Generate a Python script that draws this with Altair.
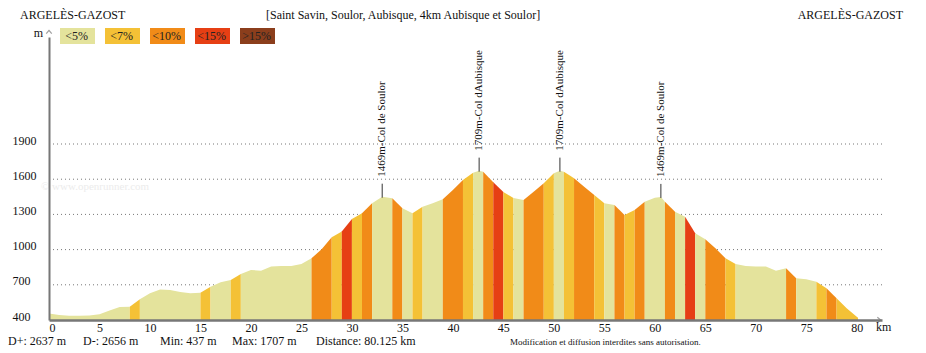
import altair as alt
import pandas as pd

# ---------------- data ----------------
km = [0, 1, 2, 3, 4, 5, 6, 7, 8, 9, 10, 11, 12, 13, 14, 15, 16, 17, 18, 19, 20,
      21, 22, 23, 24, 25, 26, 27, 28, 29, 30, 31, 32, 33, 34, 35, 36, 37, 38, 39, 40,
      41, 42, 42.6, 43, 44, 45, 46, 47, 48, 49, 50, 50.6, 51, 52, 53, 54, 55, 56, 57, 58,
      59, 60, 60.6, 61, 62, 63, 64, 65, 66, 67, 68, 69, 70, 71, 72, 73, 74, 75, 76, 77,
      78, 79, 80, 80.125]
elev = [455, 443, 437, 437, 438, 450, 482, 510, 513, 576, 627, 661, 655, 639, 627, 633,
        684, 721, 741, 792, 826, 820, 855, 860, 860, 877, 926, 1003, 1105, 1155, 1260,
        1310, 1395, 1451, 1437, 1352, 1310, 1366, 1395, 1429, 1508, 1594, 1656, 1673,
        1664, 1575, 1490, 1440, 1423, 1494, 1565, 1651, 1673, 1664, 1608, 1536, 1466,
        1395, 1380, 1295, 1338, 1408, 1443, 1449, 1408, 1323, 1281, 1139, 1088, 1011,
        926, 877, 860, 855, 855, 820, 841, 755, 747, 727, 670, 585, 500, 428, 420]

# slope-class segments: end km of each segment and its class
seg_end = [8, 9, 15, 16, 18, 19, 26, 28, 29, 30, 31, 32, 34, 35, 36, 37, 39, 41, 42, 43,
           44, 45, 46, 47, 49, 50, 51, 52, 54, 55, 56, 57, 58, 59, 61, 62, 63, 64, 65, 67,
           68, 73, 74, 76, 77, 78, 80.125]
seg_cat = ["<5%", "<7%", "<5%", "<7%", "<5%", "<7%", "<5%", "<10%", "<7%", "<15%",
           "<7%", "<10%", "<5%", "<10%", "<5%", "<7%", "<5%", "<10%", "<7%", "<5%",
           "<10%", "<15%", "<7%", "<5%", "<10%", "<7%", "<5%", "<7%", "<10%", "<7%",
           "<5%", "<10%", "<7%", "<10%", "<5%", "<10%", "<5%", "<15%", "<5%", "<10%",
           "<7%", "<5%", "<10%", "<5%", "<7%", "<10%", "<7%"]

classes = ["<5%", "<7%", "<10%", "<15%", ">15%"]
class_colors = ["#e4e39c", "#f4c136", "#f18b18", "#e63f14", "#8b3e1c"]

peak_km = [33.0, 42.6, 50.6, 60.6]
peak_elev = [1451, 1673, 1673, 1449]
peak_label = ["1469m-Col de Soulor", "1709m-Col dAubisque",
              "1709m-Col dAubisque", "1469m-Col de Soulor"]

grid_vals = [700, 1000, 1300, 1600, 1900]
y_ticks = [400, 700, 1000, 1300, 1600, 1900]
x_ticks = list(range(0, 81, 5))

# ---------------- tables ----------------
rows = []
start = 0
for i, (end, cat) in enumerate(zip(seg_end, seg_cat)):
    for k, e in zip(km, elev):
        if start <= k <= end:
            rows.append({"km": k, "elev": e, "seg": i, "cat": cat})
    start = end
prof = pd.DataFrame(rows)
peaks = pd.DataFrame({"km": peak_km, "elev": peak_elev, "label": peak_label})
grid = pd.DataFrame({"v": grid_vals})
legend_df = pd.DataFrame({"cat": classes})

SERIF = "Liberation Serif"
W, H = 833, 283
xs = alt.Scale(domain=[0, 82.5], nice=False, zero=False)
ys = alt.Scale(domain=[400, 2812], nice=False, zero=False)
cs = alt.Scale(domain=classes, range=class_colors)

xaxis = alt.Axis(values=x_ticks, ticks=False, grid=False, domainColor="#777777",
                 domainWidth=2.5, labelFont=SERIF, labelFontSize=12, labelColor="#111111",
                 labelPadding=2, labelBaseline="top", title=None, zindex=2, format="d")
yaxis = alt.Axis(values=y_ticks, ticks=False, grid=False, domainColor="#777777",
                 domainWidth=2, labelFont=SERIF, labelFontSize=12, labelColor="#111111",
                 labelAlign="left", labelPadding=37, labelBaseline="alphabetic",
                 title=None, zindex=2, format="d")

grid_layer = alt.Chart(grid).mark_rule(strokeDash=[1, 3], color="#777777", strokeWidth=1).encode(
    y=alt.Y("v:Q", scale=ys, axis=yaxis)
)

area = alt.Chart(prof).mark_area(interpolate="linear", opacity=1).encode(
    x=alt.X("km:Q", scale=xs, axis=xaxis),
    y=alt.Y("elev:Q", scale=ys, axis=yaxis),
    y2=alt.datum(400),
    color=alt.Color("cat:N", scale=cs, legend=None),
    detail="seg:N",
)

peak_rule = alt.Chart(peaks).mark_rule(color="#333333", strokeWidth=1, yOffset=1, y2Offset=-13).encode(
    x=alt.X("km:Q", scale=xs, axis=xaxis),
    y=alt.Y("elev:Q", scale=ys, axis=yaxis),
    y2="elev:Q",
)
peak_text = alt.Chart(peaks).mark_text(angle=270, align="left", baseline="middle", dx=20,
                                       font=SERIF, fontSize=11, color="#111111").encode(
    x=alt.X("km:Q", scale=xs, axis=xaxis),
    y=alt.Y("elev:Q", scale=ys, axis=yaxis),
    text="label:N",
)


def label(txt, x, y, size=12, align="left", color="#111111", baseline="middle"):
    return alt.Chart(pd.DataFrame({"t": [txt]})).mark_text(
        font=SERIF, fontSize=size, align=align, baseline=baseline, color=color
    ).encode(text="t:N", x=alt.value(x), y=alt.value(y))


y_arrow = alt.Chart(pd.DataFrame({"t": [0]})).mark_point(
    shape="M-1,0.6L0,-0.6L1,0.6", filled=False, stroke="#777777", strokeWidth=1.2, size=30
).encode(x=alt.value(0), y=alt.value(-5))
x_arrow = alt.Chart(pd.DataFrame({"t": [0]})).mark_point(
    shape="M-0.6,-1L0.6,0L-0.6,1", filled=False, stroke="#777777", strokeWidth=1.2, size=30
).encode(x=alt.value(830), y=alt.value(283))

texts = [
    label("ARGELÈS-GAZOST", -29, -22),
    label("[Saint Savin, Soulor, Aubisque, 4km Aubisque et Soulor]", 217, -22),
    label("ARGELÈS-GAZOST", 854, -22, align="right"),
    label("m", -6, -4, align="right"),
    label("km", 827, 290),
    label("© www.openrunner.com", -8, 150, size=11, color="#ececec"),
    label("D+: 2637 m", -41, 304),
    label("D-: 2656 m", 34, 304),
    label("Min: 437 m", 111, 304),
    label("Max: 1707 m", 183, 304),
    label("Distance: 80.125 km", 267, 304),
    label("Modification et diffusion interdites sans autorisation.", 461, 305, size=9),
]

inner = alt.layer(grid_layer, area, peak_rule, peak_text, y_arrow, x_arrow, *texts)

leg_x = alt.Scale(domain=classes, range=[11, 226], paddingInner=10 / 45, paddingOuter=0)
leg_rect = alt.Chart(legend_df).mark_rect().encode(
    x=alt.X("cat:N", scale=leg_x, axis=None, sort=classes),
    y=alt.value(-9), y2=alt.value(7),
    color=alt.Color("cat:N", scale=cs, legend=None),
)
leg_text = alt.Chart(legend_df).mark_text(font=SERIF, fontSize=12, color="#222222",
                                          baseline="middle", align="center", dx=-1).encode(
    x=alt.X("cat:N", scale=leg_x, axis=None, sort=classes, bandPosition=0.5),
    y=alt.value(-1),
    text="cat:N",
)
legend = alt.layer(leg_rect, leg_text)

chart = alt.layer(inner, legend).resolve_scale(x="independent").properties(
    width=W, height=H,
    autosize=alt.AutoSizeParams(type="none"),
    padding={"left": 49, "top": 37, "right": 44, "bottom": 33},
    background="white",
).configure_view(stroke=None)

chart.save("out.html", embed_options={"renderer": "svg", "actions": False})
